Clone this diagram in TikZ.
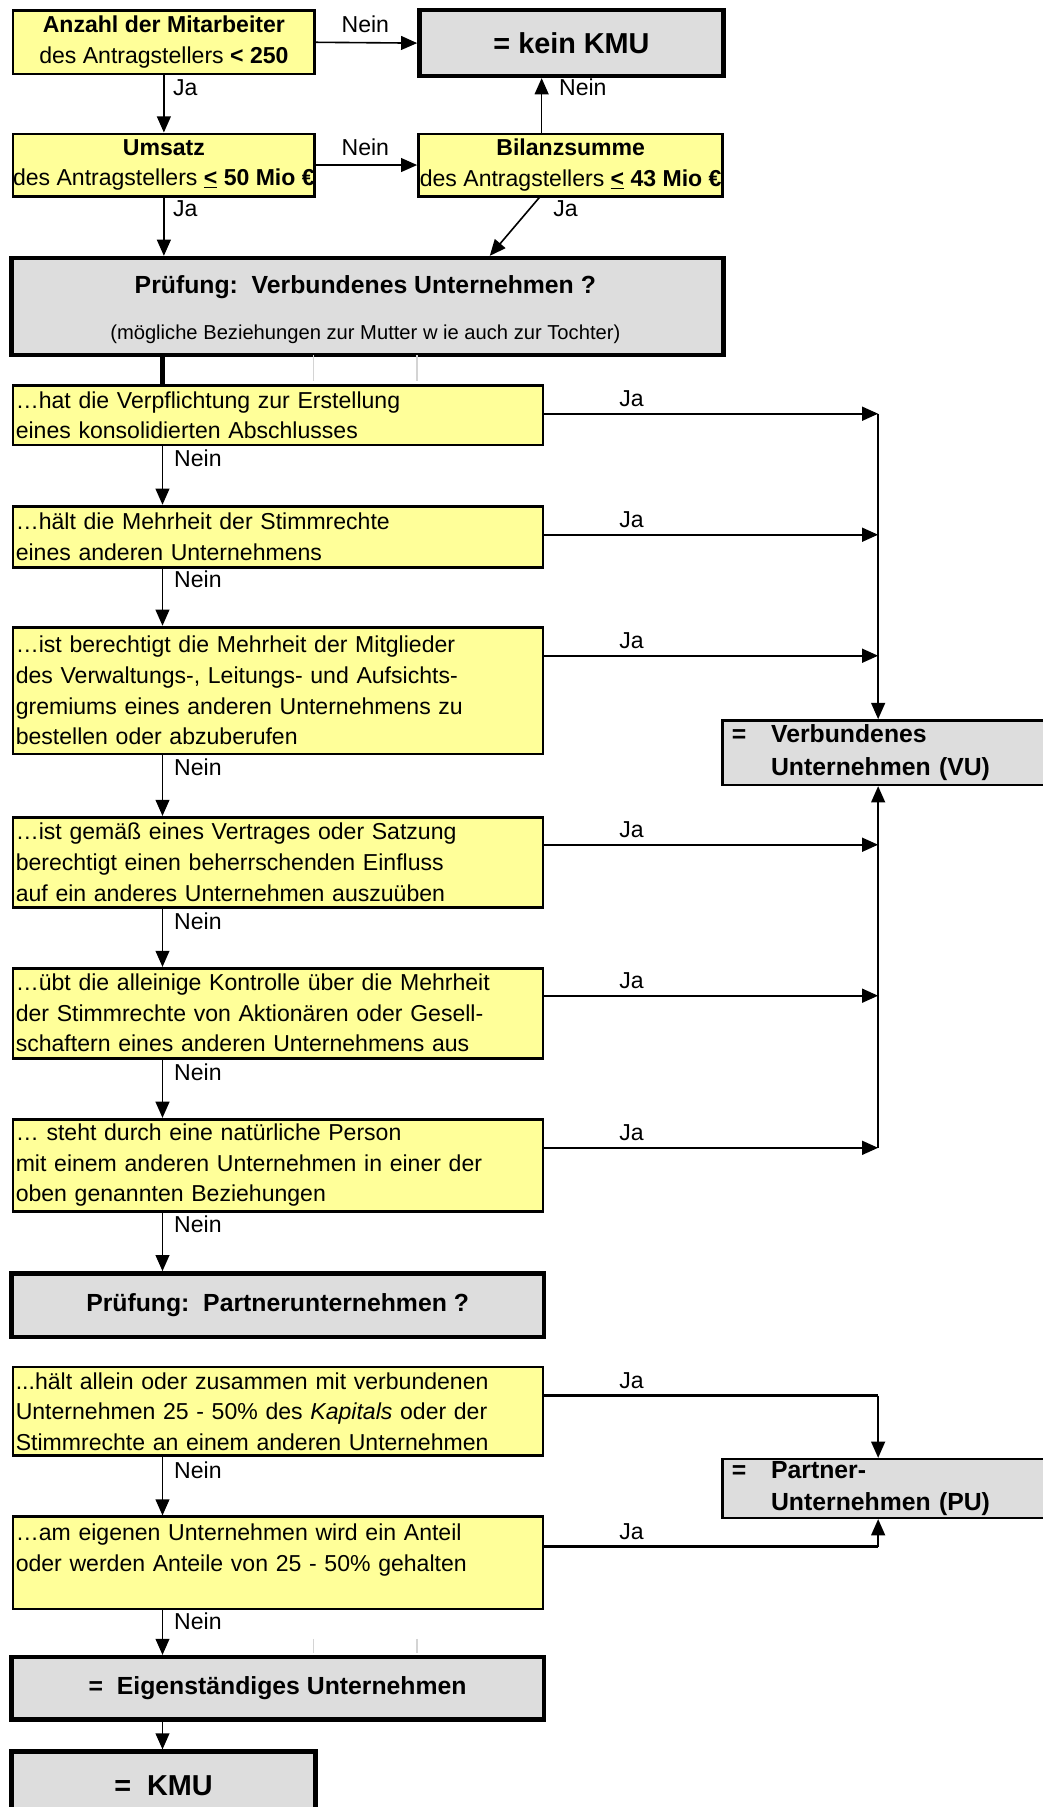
\documentclass[tikz,border=0pt]{standalone}
\usepackage{fontspec}
\setmainfont{Liberation Sans}
\usetikzlibrary{arrows.meta,calc}
\definecolor{yfill}{HTML}{FFFF99}
\definecolor{gfill}{HTML}{DDDDDD}
\definecolor{gridgray}{HTML}{D4D4D4}
\newcommand\fsn{\fontsize{20}{26.5}\selectfont}
\newcommand\fsb{\fontsize{21.5}{28}\selectfont\bfseries}
\newcommand\fsl{\fontsize{25}{30}\selectfont\bfseries}
\newcommand\fss{\fontsize{17.5}{21}\selectfont}
\tikzset{
  ybox/.style={draw, line width=2.4pt, fill=yfill, anchor=north west, inner ysep=0pt, font=\fsn},
  vbox/.style={ybox, inner xsep=2.5pt, text width=455pt, minimum width=460pt, align=left},
  gbox/.style={draw, line width=3.8pt, fill=gfill, anchor=north west, inner sep=0pt},
  rbox/.style={draw, line width=2.2pt, fill=gfill, anchor=north west, inner xsep=8pt, inner ysep=0pt,
    text width=314pt, minimum width=330pt, align=left, font=\fsb},
  conn/.style={line width=1.4pt, -{Triangle[length=14pt,width=12pt]}},
  jaconn/.style={conn, line width=2pt},
  plain/.style={line width=2pt},
  lbl/.style={font=\fsn, inner sep=0pt},
  gridline/.style={draw=gridgray, line width=1.3pt},
}
\begin{document}
\begin{tikzpicture}[x=1pt,y=-1pt]
\useasboundingbox (0,0) rectangle (905,1568);
\clip (0,0) rectangle (905,1568);

% helper x positions
\coordinate (mx) at (141,0);
\coordinate (vx) at (762,0);
\coordinate (bx) at (470,0);

% top section
\node[ybox, align=center, inner xsep=0pt, minimum width=262pt, minimum height=55pt] (a) at (10,8)
  {\textbf{Anzahl der Mitarbeiter}\\des Antragstellers \textbf{< 250}};
\node[gbox, minimum width=264pt, minimum height=57pt, font=\fsl] (k) at (362,7) {= kein KMU};
\node[ybox, align=center, inner xsep=0pt, minimum width=262pt, minimum height=54pt] (u) at (10,115)
  {\textbf{Umsatz}\\des Antragstellers \textbf{\underline{<} 50 Mio €}};
\node[ybox, align=center, inner xsep=0pt, minimum width=264pt, minimum height=54pt] (b) at (362,115)
  {\textbf{Bilanzsumme}\\des Antragstellers \textbf{\underline{<} 43 Mio €}};
\node[gbox, minimum width=618pt, minimum height=84pt] (pv) at (8,222) {};
\node[font=\fsb, inner sep=0pt] (pvt) at (317,249) {Prüfung:\ \ Verbundenes Unternehmen ?};
\node[font=\fss, inner sep=0pt] (pvs) at (317,290) {(mögliche Beziehungen zur Mutter w ie auch zur Tochter)};

\draw[conn] (a.east) -- (k.west);
\node[lbl] (la1) at (317,21) {Nein};
\draw[conn] (a.south) -- (u.north);
\node[lbl, anchor=west] (la2) at (150,76) {Ja};
\draw[conn] (u.east) -- (b.west);
\node[lbl] (lu1) at (317,128) {Nein};
\draw[conn] (b.north -| bx) -- (k.south -| bx);
\node[lbl, anchor=west] (lb1) at (485,76) {Nein};
\draw[conn] (u.south) -- (u.south |- pv.north);
\node[lbl, anchor=west] (lu2) at (150,181) {Ja};
\draw[conn] ($(b.south west)+(106,0)$) -- ($(pv.north west)+(417,0)$);
\node[lbl, anchor=west] (lb2) at (480,181) {Ja};

% gridline artefacts
\draw[gridline] (272,308) -- (272,331);
\draw[gridline] (362,308) -- (362,331);
\draw[gridline] (272,1422) -- (272,1434);
\draw[gridline] (362,1422) -- (362,1434);

% Verbundenes Unternehmen checks
\node[vbox, minimum height=52pt] (v1) at (10,333)
  {…hat die Verpflichtung zur Erstellung\\eines konsolidierten Abschlusses};
\node[vbox, minimum height=53pt] (v2) at (10,438)
  {…hält die Mehrheit der Stimmrechte\\eines anderen Unternehmens};
\node[vbox, minimum height=110pt] (v3) at (10,543)
  {…ist berechtigt die Mehrheit der Mitglieder\\des Verwaltungs-, Leitungs- und Aufsichts-\\gremiums eines anderen Unternehmens zu\\bestellen oder abzuberufen};
\node[vbox, minimum height=78pt] (v4) at (10,708)
  {…ist gemäß eines Vertrages oder Satzung\\berechtigt einen beherrschenden Einfluss\\auf ein anderes Unternehmen auszuüben};
\node[vbox, minimum height=78pt] (v5) at (10,839)
  {…übt die alleinige Kontrolle über die Mehrheit\\der Stimmrechte von Aktionären oder Gesell-\\schaftern eines anderen Unternehmens aus};
\node[vbox, minimum height=80pt] (v6) at (10,970)
  {… steht durch eine natürliche Person\\mit einem anderen Unternehmen in einer der\\oben genannten Beziehungen};
\node[rbox, minimum height=56pt] (vu) at (626,624)
  {\makebox[34pt][l]{=}Verbundenes\\\makebox[34pt][l]{}Unternehmen (VU)};

\draw[line width=3.5pt] (pv.south -| mx) -- (v1.north -| mx);

\foreach \s/\t/\ny in {v1/v2/398, v2/v3/503, v3/v4/666, v4/v5/799, v5/v6/930}{
  \draw[conn] (\s.south -| mx) -- (\t.north -| mx);
  \node[lbl, anchor=west] (n\s) at (151,\ny) {Nein};
}

\foreach \s/\d in {v1/26, v2/26, v3/26, v4/25, v5/25, v6/26}{
  \coordinate (j\s) at ($(\s.north east)+(0,\d)$);
  \draw[jaconn] (j\s) -- (j\s -| vx);
  \node[lbl] (ja\s) at ($(j\s -| 548,0)+(0,-13)$) {Ja};
}
\draw[conn] (jv1 -| vx) -- (vu.north -| vx);
\draw[conn] (jv6 -| vx) -- (vu.south -| vx);

% Partnerunternehmen
\node[gbox, minimum width=462pt, minimum height=55pt, font=\fsb] (pp) at (8,1103) {Prüfung:\ \ Partnerunternehmen ?};
\draw[conn] (v6.south -| mx) -- (pp.north -| mx);
\node[lbl, anchor=west] (nv6) at (151,1062) {Nein};

\node[vbox, minimum height=77pt] (w1) at (10,1185)
  {...hält allein oder zusammen mit verbundenen\\Unternehmen 25 - 50\% des \textit{Kapitals} oder der\\Stimmrechte an einem anderen Unternehmen};
\node[vbox, minimum height=80pt] (w2) at (10,1315)
  {…am eigenen Unternehmen wird ein Anteil\\oder werden Anteile von 25 - 50\% gehalten\\\mbox{}};
\node[rbox, minimum height=51pt] (pu) at (626,1265)
  {\makebox[34pt][l]{=}Partner-\\\makebox[34pt][l]{}Unternehmen (PU)};

\coordinate (jw1) at ($(w1.north east)+(0,26)$);
\coordinate (jw2) at ($(w2.north east)+(0,27)$);
\draw[plain] (jw1) -- (jw1 -| vx);
\draw[conn] (jw1 -| vx) -- (pu.north -| vx);
\node[lbl] (jaw1) at ($(jw1 -| 548,0)+(0,-13)$) {Ja};
\draw[plain] (jw2) -- (jw2 -| vx);
\draw[conn] (jw2 -| vx) -- (pu.south -| vx);
\node[lbl] (jaw2) at ($(jw2 -| 548,0)+(0,-13)$) {Ja};

\draw[conn] (w1.south -| mx) -- (w2.north -| mx);
\node[lbl, anchor=west] (nw1) at (151,1276) {Nein};

% result
\node[gbox, minimum width=462pt, minimum height=54pt, font=\fsb] (e) at (8,1436) {=\ \ Eigenständiges Unternehmen};
\draw[conn] (w2.south -| mx) -- (e.north -| mx);
\node[lbl, anchor=west] (nw2) at (151,1407) {Nein};
\node[gbox, minimum width=264pt, minimum height=60pt, font=\fsl] (kmu) at (8,1518) {=\ \ KMU};
\draw[conn] (e.south -| mx) -- (kmu.north -| mx);
\end{tikzpicture}
\end{document}
